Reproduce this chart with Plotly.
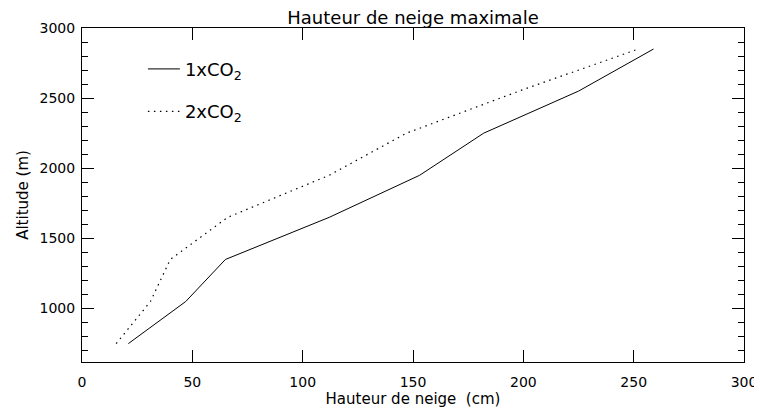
import plotly.graph_objects as go

altitude_m = [750, 1050, 1350, 1650, 1950, 2250, 2550, 2850]
snow_1xco2_cm = [21, 47, 65, 112, 153, 182, 225, 259]
snow_2xco2_cm = [15.5, 31, 40, 66, 112, 147, 198, 252]
series_names = ["1xCO<sub>2</sub>", "2xCO<sub>2</sub>"]

FONT = "DejaVu Sans"

fig = go.Figure()
fig.add_trace(go.Scatter(x=snow_1xco2_cm, y=altitude_m, mode="lines",
                         name=series_names[0], legendgroup="a",
                         line=dict(color="black", width=1)))
fig.add_trace(go.Scatter(x=snow_2xco2_cm, y=altitude_m, mode="lines",
                         name=series_names[1], legendgroup="b",
                         line=dict(color="black", width=1.2, dash="1.5px,4.5px")))

axis_common = dict(showline=True, linecolor="black", linewidth=1, mirror="ticks",
                   ticks="inside", ticklen=12, tickcolor="black", tickwidth=1,
                   showgrid=False, zeroline=False, automargin=False,
                   tickfont=dict(family=FONT, size=14, color="black"))

# page body has an 8px default margin: the figure is sized/offset to compensate
fig.update_layout(
    width=754, height=405,
    margin=dict(l=74, r=18, t=20, b=51),
    paper_bgcolor="white", plot_bgcolor="white",
    font=dict(family=FONT, color="black"),
    title=dict(text="Hauteur de neige maximale", x=0.5, xref="paper",
               y=1 - 9.5 / 405, yref="container", yanchor="middle",
               font=dict(family=FONT, size=18, color="black")),
    xaxis=dict(range=[0, 300], dtick=50, tick0=0, ticklabelstandoff=7,
               title=dict(text="Hauteur de neige  (cm)", standoff=2,
                          font=dict(family=FONT, size=15, color="black")),
               **axis_common),
    yaxis=dict(range=[619, 3000], dtick=500, tick0=0, ticklabelstandoff=3,
               minor=dict(dtick=100, tick0=0, ticks="inside", ticklen=6,
                          tickcolor="black", tickwidth=1, showgrid=False),
               title=dict(text="Altitude (m)", standoff=7,
                          font=dict(family=FONT, size=15, color="black")),
               **axis_common),
    showlegend=True,
    legend=dict(x=0.092, y=0.932, xanchor="left", yanchor="top",
                bgcolor="rgba(0,0,0,0)", traceorder="grouped", tracegroupgap=16,
                font=dict(family=FONT, size=18, color="black"),
                itemwidth=32),
)

fig.write_html("out.html")
